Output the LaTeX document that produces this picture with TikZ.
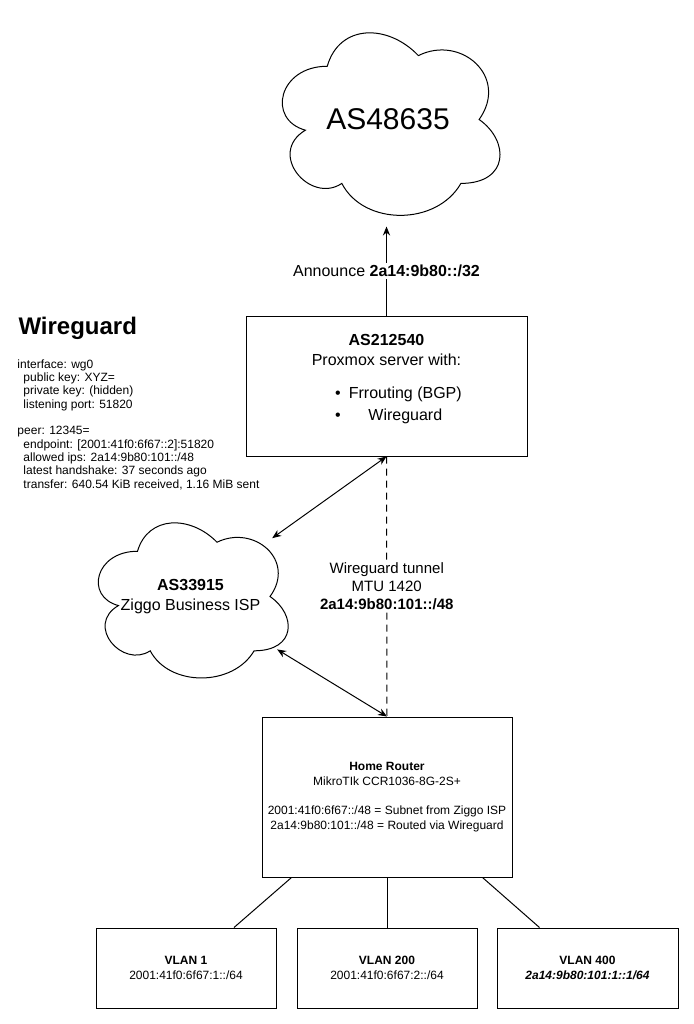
\documentclass[tikz,border=0pt]{standalone}
\usepackage{fontspec}
\setmainfont{Liberation Sans}
\usetikzlibrary{shapes.geometric,arrows.meta}

% cloud outline inside the box of an ellipse node: #1 node, #2 width, #3 height
\newcommand\cloudoutline[3]{%
  \draw[x=#2,y=-#3,shift={(#1.center)},shift={(-0.5,-0.5)}]
    (0.25,0.25) .. controls (0.05,0.25) and (0,0.5) .. (0.16,0.55)
    .. controls (0,0.66) and (0.18,0.9) .. (0.31,0.8)
    .. controls (0.4,1) and (0.7,1) .. (0.8,0.8)
    .. controls (1,0.8) and (1,0.6) .. (0.875,0.5)
    .. controls (1,0.3) and (0.8,0.1) .. (0.625,0.2)
    .. controls (0.5,0.05) and (0.3,0.05) .. (0.25,0.25) -- cycle;}

\begin{document}
\begin{tikzpicture}[x=0.5pt,y=-0.5pt,line width=0.5pt,
    box/.style={draw,rectangle,inner sep=0pt},
    cloudnode/.style={ellipse,inner sep=0pt},
    arr/.style={-{Stealth[length=4.5pt,width=3.6pt]}},
    darr/.style={{Stealth[length=4.5pt,width=3.6pt]}-{Stealth[length=4.5pt,width=3.6pt]}},
    small/.style={font=\fontsize{6}{7.3}\selectfont},
    medium/.style={font=\fontsize{8}{9.6}\selectfont}]
    \useasboundingbox[fill=white] (0,0) rectangle (693,1024);

    % clouds
    \node[cloudnode,minimum width=121.5pt,minimum height=106.5pt,
      font=\fontsize{15}{18}\selectfont] (as486) at (388,119.5) {AS48635};
    \cloudoutline{as486}{121.5pt}{106.5pt}
    \node[cloudnode,minimum width=106pt,minimum height=90.5pt,medium,align=center]
      (isp) at (190.5,596.5) {\textbf{AS33915}\\Ziggo Business ISP};
    \cloudoutline{isp}{106pt}{90.5pt}

    % proxmox server
    \node[box,minimum width=140.5pt,minimum height=70pt] (prox) at (386.5,386) {};
    \node[medium,align=center] (proxtitle) at (386.5,350) {\textbf{AS212540}\\Proxmox server with:};
    \node[medium,inner sep=0pt] (proxlist) at (398.5,406)
      {\begin{tabular}{@{}l@{\hspace{4pt}}c@{}}
        \textbullet & Frrouting (BGP)\\[1.4pt]
        \textbullet & Wireguard
      \end{tabular}};

    % wireguard status
    \node[anchor=base west,inner sep=0pt,font=\bfseries\fontsize{12}{14.4}\selectfont]
      (wgtitle) at (18,334) {Wireguard};
    \node[anchor=north west,inner sep=0pt,align=left,font=\fontsize{6}{6.67}\selectfont]
      (wgconf) at (17,359) {interface: wg0\\
      \hspace*{3pt}public key: XYZ=\\
      \hspace*{3pt}private key: (hidden)\\
      \hspace*{3pt}listening port: 51820\\[6.67pt]
      peer: 12345=\\
      \hspace*{3pt}endpoint: [2001:41f0:6f67::2]:51820\\
      \hspace*{3pt}allowed ips: 2a14:9b80:101::/48\\
      \hspace*{3pt}latest handshake: 37 seconds ago\\
      \hspace*{3pt}transfer: 640.54 KiB received, 1.16 MiB sent};

    % home router and vlans
    \node[box,minimum width=125pt,minimum height=80pt,small,align=center] (router) at (387,797)
      {\textbf{Home Router}\\MikroTIk CCR1036-8G-2S+\\[7.3pt]
      2001:41f0:6f67::/48 = Subnet from Ziggo ISP\\
      2a14:9b80:101::/48 = Routed via Wireguard};
    \node[box,minimum width=90pt,minimum height=40pt,small,align=center] (vlan1) at (186,968)
      {\textbf{VLAN 1}\\2001:41f0:6f67:1::/64};
    \node[box,minimum width=90pt,minimum height=40pt,small,align=center] (vlan200) at (387,968)
      {\textbf{VLAN 200}\\2001:41f0:6f67:2::/64};
    \node[box,minimum width=90.5pt,minimum height=40pt,small,align=center] (vlan400) at (587.5,968)
      {\textbf{VLAN 400}\\\textbf{\textit{2a14:9b80:101:1::1/64}}};

    % connectors
    \draw[arr] (prox.north) -- (prox.north |- as486.south)
      node[midway,fill=white,medium,inner sep=1pt] (annlbl) {Announce \textbf{2a14:9b80::/32}};
    \draw[dash pattern=on 3.5pt off 2.5pt] (prox.south) -- (router.north)
      node[midway,fill=white,align=center,inner sep=1pt,font=\fontsize{7.5}{9}\selectfont]
      (tunnellbl) {Wireguard tunnel\\MTU 1420\\\textbf{2a14:9b80:101::/48}};
    \draw[darr] (isp) -- (prox.south);
    \draw[darr] (isp) -- (router.north);
    \draw ([xshift=15pt]router.south west) -- ([xshift=24pt]vlan1.north);
    \draw (router.south) -- (vlan200.north);
    \draw ([xshift=-15pt]router.south east) -- ([xshift=-24pt]vlan400.north);
  \end{tikzpicture}
\end{document}
